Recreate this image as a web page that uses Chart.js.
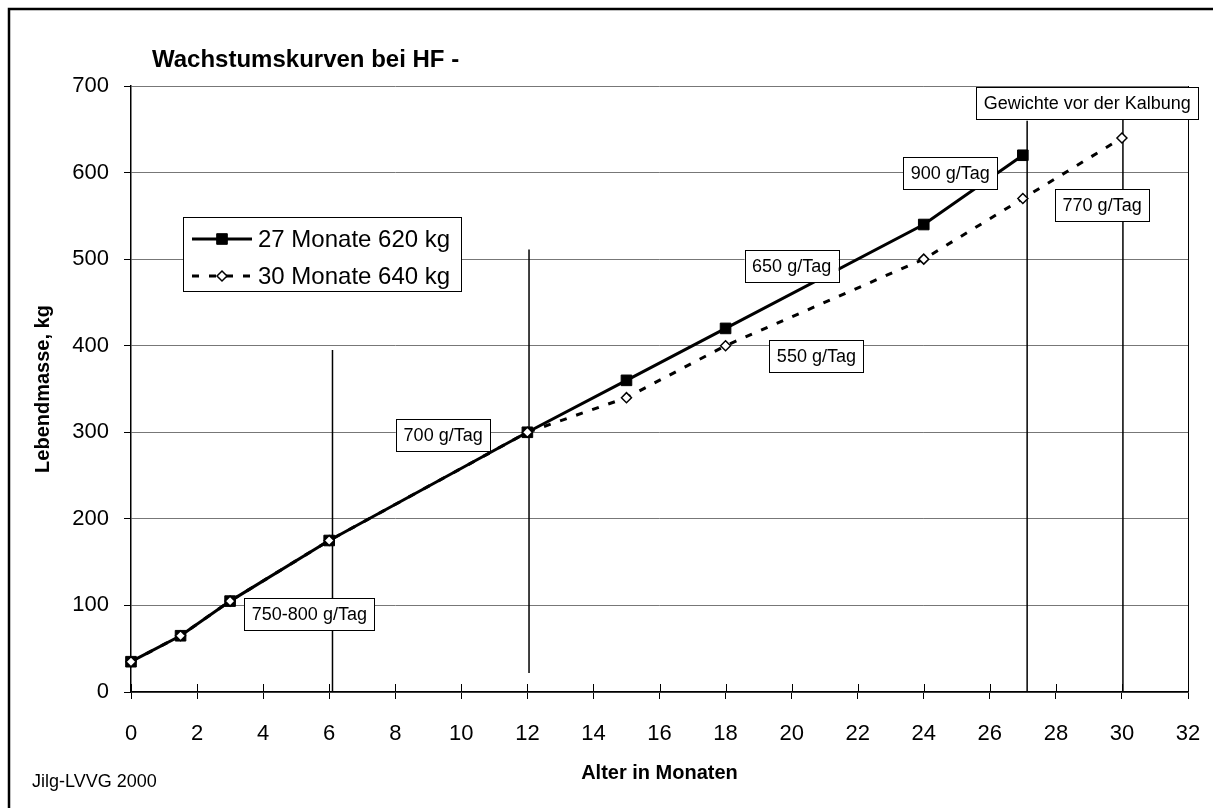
<!DOCTYPE html>
<html>
<head>
<meta charset="utf-8">
<script src="https://cdn.jsdelivr.net/npm/chart.js@4"></script>
<style>
  body { margin: 0; background: #fff; }
</style>
</head>
<body>
<canvas id="wachstum" width="1213" height="808"></canvas>
<script>
// Werte
let monate27 = [0, 1.5, 3, 6, 12, 15, 18, 24, 27]
let gewicht27 = [35, 65, 105, 175, 300, 360, 420, 540, 620]
let monate30 = [0, 1.5, 3, 6, 12, 15, 18, 24, 27, 30]
let gewicht30 = [35, 65, 105, 175, 300, 340, 400, 500, 570, 640]
let serien = ['27 Monate 620 kg', '30 Monate 640 kg']

// Zunahmen (Textfelder) in Datenkoordinaten
let hinweisText = ['750-800 g/Tag', '700 g/Tag', '650 g/Tag', '550 g/Tag', '900 g/Tag', '770 g/Tag', 'Gewichte vor der Kalbung']
let hinweisX = [5.4, 9.45, 20.0, 20.75, 24.8, 29.4, 28.95]
let hinweisY = [90, 297, 492, 388, 599, 562, 680]

// senkrechte Linien
let linieX = [6.1, 12.05, 27.13, 30.03]
let linieVon = [0, 22, 0, 0]
let linieBis = [395, 511, 660, 662]

const schrift = 'Arial, "Liberation Sans", sans-serif'

function punkte(xs, ys) {
    return xs.map((x, i) => ({x: x, y: ys[i]}))
}

const extras = {
    id: 'extras',
    beforeDraw(chart) {
        const ctx = chart.ctx
        ctx.save()
        ctx.fillStyle = '#fff'
        ctx.fillRect(0, 0, chart.width, chart.height)
        // Rahmen (rechts/unten abgeschnitten)
        ctx.strokeStyle = '#000'
        ctx.lineWidth = 2.5
        ctx.strokeRect(9, 9, chart.width + 20, chart.height + 20)
        ctx.restore()
    },
    beforeDatasetsDraw(chart) {
        const ctx = chart.ctx
        const xs = chart.scales.x
        const ys = chart.scales.y
        const a = chart.chartArea
        ctx.save()
        ctx.strokeStyle = '#000'
        // rechter Rand
        ctx.lineWidth = 1
        ctx.beginPath()
        ctx.moveTo(a.right + 0.5, a.top)
        ctx.lineTo(a.right + 0.5, a.bottom)
        ctx.stroke()
        // Teilstriche innen an der x-Achse
        ctx.beginPath()
        for (let v = xs.min; v <= xs.max; v += 2) {
            const px = Math.round(xs.getPixelForValue(v)) + 0.5
            ctx.moveTo(px, a.bottom - 8)
            ctx.lineTo(px, a.bottom)
        }
        ctx.stroke()
        ctx.lineWidth = 1.5
        for (let i = 0; i < linieX.length; i++) {
            const px = xs.getPixelForValue(linieX[i])
            ctx.beginPath()
            ctx.moveTo(px, ys.getPixelForValue(linieVon[i]))
            ctx.lineTo(px, ys.getPixelForValue(linieBis[i]))
            ctx.stroke()
        }
        ctx.restore()
    },
    afterDatasetsDraw(chart) {
        const ctx = chart.ctx
        const xs = chart.scales.x
        const ys = chart.scales.y
        const a = chart.chartArea
        ctx.save()
        // Textfelder
        ctx.font = '18px ' + schrift
        ctx.textAlign = 'center'
        ctx.textBaseline = 'middle'
        for (let i = 0; i < hinweisText.length; i++) {
            const cx = xs.getPixelForValue(hinweisX[i])
            const cy = ys.getPixelForValue(hinweisY[i])
            const w = ctx.measureText(hinweisText[i]).width + 15
            const h = 32
            ctx.fillStyle = '#fff'
            ctx.fillRect(cx - w / 2, cy - h / 2, w, h)
            ctx.strokeStyle = '#000'
            ctx.lineWidth = 1
            ctx.strokeRect(Math.round(cx - w / 2) + 0.5, Math.round(cy - h / 2) + 0.5, Math.round(w), h)
            ctx.fillStyle = '#000'
            ctx.fillText(hinweisText[i], cx, cy + 1)
        }
        // Legende
        const lx = a.left + 52
        const ly = a.top + 131
        ctx.fillStyle = '#fff'
        ctx.fillRect(lx, ly, 278, 74)
        ctx.strokeStyle = '#000'
        ctx.lineWidth = 1
        ctx.strokeRect(lx + 0.5, ly + 0.5, 278, 74)
        ctx.font = '24px ' + schrift
        ctx.textAlign = 'left'
        for (let i = 0; i < 2; i++) {
            const ds = chart.data.datasets[i]
            const ry = ly + 22 + i * 37
            ctx.strokeStyle = '#000'
            ctx.lineWidth = 3
            ctx.setLineDash(ds.borderDash || [])
            ctx.beginPath()
            ctx.moveTo(lx + 9, ry)
            ctx.lineTo(lx + 69, ry)
            ctx.stroke()
            ctx.setLineDash([])
            ctx.fillStyle = ds.pointBackgroundColor
            ctx.strokeStyle = ds.pointBorderColor
            ctx.lineWidth = ds.pointBorderWidth
            Chart.helpers.drawPoint(ctx, {
                pointStyle: ds.pointStyle,
                radius: ds.pointRadius,
                borderWidth: ds.pointBorderWidth
            }, lx + 39, ry)
            ctx.fillStyle = '#000'
            ctx.fillText(serien[i], lx + 75, ry + 1)
        }
        ctx.restore()
    },
    afterDraw(chart) {
        const ctx = chart.ctx
        ctx.save()
        ctx.fillStyle = '#000'
        ctx.textAlign = 'left'
        ctx.textBaseline = 'alphabetic'
        ctx.font = 'bold 24px ' + schrift
        ctx.fillText('Wachstumskurven bei HF -', 152, 67)
        ctx.font = '18px ' + schrift
        ctx.fillText('Jilg-LVVG 2000', 32, 787)
        ctx.restore()
    }
}

const ctx = document.getElementById('wachstum')

const grafik = new Chart(ctx, {
    type: 'line',
    data: {
        datasets: [{
            label: serien[0],
            data: punkte(monate27, gewicht27),
            borderColor: '#000',
            backgroundColor: '#000',
            borderWidth: 3,
            pointStyle: 'rect',
            pointRadius: 7.5,
            pointBorderWidth: 1,
            pointBackgroundColor: '#000',
            pointBorderColor: '#000',
            clip: false,
            order: 1
        }, {
            label: serien[1],
            data: punkte(monate30, gewicht30),
            borderColor: '#000',
            backgroundColor: '#fff',
            borderWidth: 3,
            borderDash: [7, 10],
            pointStyle: 'rectRot',
            pointRadius: 5,
            pointBorderWidth: 1.5,
            pointBackgroundColor: '#fff',
            pointBorderColor: '#000',
            clip: false,
            order: 0
        }]
    },
    options: {
        responsive: false,
        animation: false,
        layout: {padding: {top: 86, right: 25, left: 0, bottom: 0}},
        plugins: {
            legend: {display: false},
            tooltip: {enabled: false}
        },
        scales: {
            x: {
                type: 'linear',
                min: 0,
                max: 32,
                ticks: {stepSize: 2, color: '#000', font: {family: schrift, size: 22}, padding: 22, maxRotation: 0},
                grid: {drawOnChartArea: false, tickLength: 7, tickColor: '#000', color: '#000'},
                border: {color: '#000', width: 1.5},
                title: {display: true, text: 'Alter in Monaten', color: '#000', font: {family: schrift, size: 20, weight: 'bold'}, padding: {top: 0, bottom: 23}},
                afterFit: (s) => {
                    s.height = 116
                    s.paddingLeft = 0
                    s.paddingRight = 0
                }
            },
            y: {
                min: 0,
                max: 700,
                ticks: {stepSize: 100, color: '#000', font: {family: schrift, size: 22}, padding: 15},
                grid: {color: '#777', lineWidth: 1, tickLength: 7, tickColor: '#000'},
                border: {color: '#000', width: 1.5},
                title: {display: true, text: 'Lebendmasse, kg', color: '#000', font: {family: schrift, size: 20, weight: 'bold'}, padding: {top: 31}},
                afterFit: (s) => {
                    s.width = 131
                    s.paddingTop = 0
                    s.paddingBottom = 0
                }
            }
        }
    },
    plugins: [extras]
})
</script>
</body>
</html>
